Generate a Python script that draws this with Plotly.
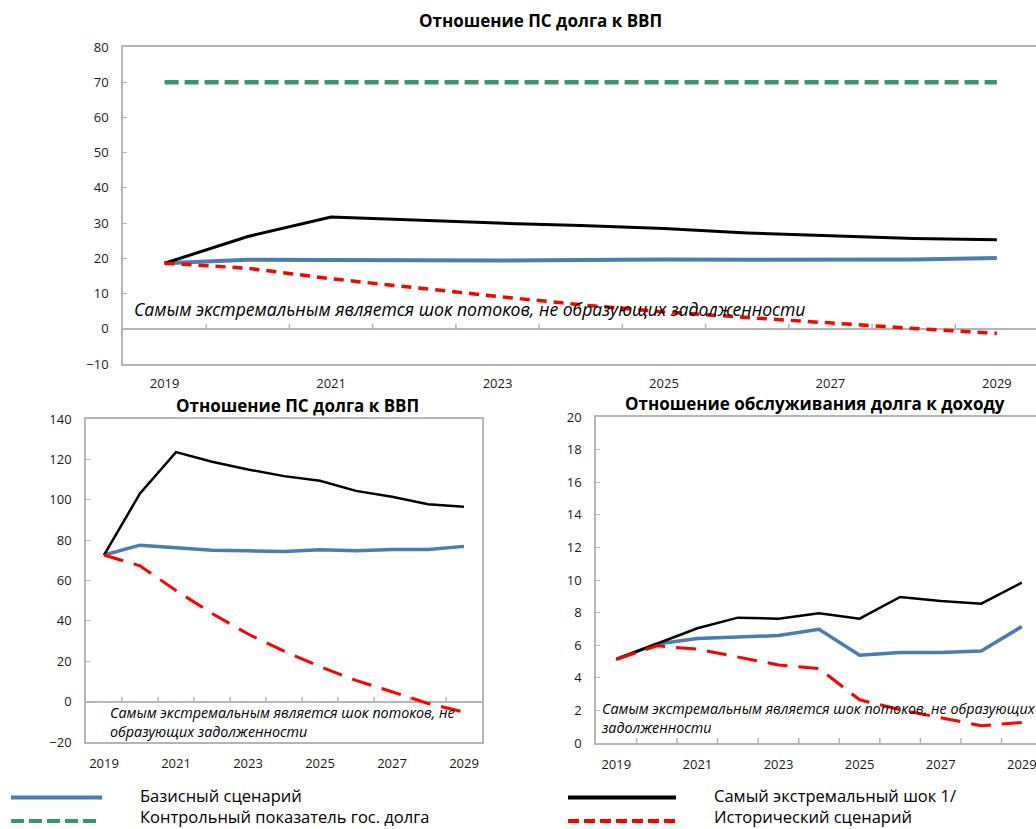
import plotly.graph_objects as go

# ---------------- data ----------------
years = [2019, 2020, 2021, 2022, 2023, 2024, 2025, 2026, 2027, 2028, 2029]
tick_years = [2019, 2021, 2023, 2025, 2027, 2029]

# Top chart: Отношение ПС долга к ВВП
top_baseline = [18.6, 19.6, 19.5, 19.4, 19.4, 19.5, 19.7, 19.6, 19.7, 19.7, 20.1]
top_extreme = [18.6, 26.2, 31.7, 30.8, 30.0, 29.3, 28.5, 27.2, 26.4, 25.6, 25.3]
top_historical = [18.6, 17.2, 14.2, 11.6, 9.2, 6.8, 4.8, 3.2, 1.6, 0.1, -1.3]
top_threshold = [70, 70, 70, 70, 70, 70, 70, 70, 70, 70, 70]

# Bottom-left chart: Отношение ПС долга к ВВП
bl_baseline = [72.6, 77.5, 76.2, 75.0, 74.7, 74.4, 75.2, 74.7, 75.3, 75.3, 76.9]
bl_extreme = [72.6, 103.1, 123.6, 118.8, 115.0, 111.7, 109.4, 104.4, 101.5, 97.8, 96.5]
bl_historical = [72.6, 67.3, 55.0, 43.7, 33.5, 25.0, 17.3, 10.5, 4.9, -0.9, -5.2]

# Bottom-right chart: Отношение обслуживания долга к доходу
br_baseline = [5.14, 6.08, 6.41, 6.51, 6.59, 6.98, 5.39, 5.55, 5.55, 5.65, 7.14]
br_extreme = [5.14, 6.08, 7.04, 7.69, 7.63, 7.96, 7.63, 8.96, 8.71, 8.55, 9.84]
br_historical = [5.14, 5.96, 5.76, 5.28, 4.79, 4.57, 2.65, 2.04, 1.53, 1.06, 1.26]

title_top = "Отношение ПС долга к ВВП"
title_bl = "Отношение ПС долга к ВВП"
title_br = "Отношение обслуживания долга к доходу"
note_text = "Самым экстремальным является шок потоков, не образующих задолженности"
note_bl = "Самым экстремальным является шок потоков, не<br>образующих задолженности"
note_br = "Самым экстремальным является шок потоков, не образующих<br>задолженности"
legend_names = ["Базисный сценарий", "Контрольный показатель гос. долга",
                "Самый экстремальный шок 1/", "Исторический сценарий"]

# ---------------- styling ----------------
W, H = 1036, 829
FONT = "Open Sans"
BLUE = "#4A7EB0"
GREEN = "#36986A"
RED = "#FF0000"
BLACK = "#000000"
GRID = "#B5B5B5"


def fx(px):
    return px / W


def fy(py):
    return 1 - py / H


fig = go.Figure()


def add_series(xa, ya, base, extreme, hist, threshold=None, big=False):
    if threshold is not None:
        fig.add_trace(go.Scatter(x=years, y=threshold, mode="lines", xaxis=xa, yaxis=ya,
                                 line=dict(color=GREEN, width=4.5, dash="14px,6px"),
                                 name=legend_names[1], showlegend=False, hoverinfo="skip"))
    fig.add_trace(go.Scatter(x=years, y=base, mode="lines", xaxis=xa, yaxis=ya,
                             line=dict(color=BLUE, width=4 if big else 3.5),
                             name=legend_names[0], showlegend=False))
    fig.add_trace(go.Scatter(x=years, y=extreme, mode="lines", xaxis=xa, yaxis=ya,
                             line=dict(color=BLACK, width=3 if big else 2.5),
                             name=legend_names[2], showlegend=False))
    fig.add_trace(go.Scatter(x=years, y=hist, mode="lines", xaxis=xa, yaxis=ya,
                             line=dict(color=RED, width=3.5 if big else 3,
                                       dash="10px,7px" if big else "20px,11px"),
                             name=legend_names[3], showlegend=False))


add_series("x", "y", top_baseline, top_extreme, top_historical, top_threshold, big=True)
add_series("x2", "y2", bl_baseline, bl_extreme, bl_historical)
add_series("x3", "y3", br_baseline, br_extreme, br_historical)

tickfont = dict(family=FONT, size=13, color="#1a1a1a")


def xaxis_cfg(domain, rng, standoff):
    return dict(domain=domain, range=rng, tickvals=tick_years, ticks="",
                showline=True, mirror=True, linecolor=GRID, linewidth=1.5,
                showgrid=False, zeroline=False, tickfont=tickfont,
                ticklabelstandoff=standoff, ticklabeloverflow="allow",
                fixedrange=True, automargin=False)


def yaxis_cfg(domain, rng, dtick, mirror):
    return dict(domain=domain, range=rng, dtick=dtick, ticks="inside", ticklen=4,
                tickcolor=GRID, showline=True, mirror=mirror, linecolor=GRID,
                linewidth=1.5, showgrid=False, zeroline=True, zerolinecolor=GRID,
                zerolinewidth=1.5, tickfont=tickfont, ticklabelstandoff=10,
                fixedrange=True, automargin=False)


fig.update_layout(
    width=W, height=H,
    margin=dict(l=0, r=0, t=0, b=0, pad=0),
    paper_bgcolor="white", plot_bgcolor="white",
    showlegend=False,
    font=dict(family=FONT, color="#000000"),
    xaxis=dict(xaxis_cfg([fx(123), 1.0], [2018.5, 2029.47], 7), anchor="y"),
    yaxis=dict(yaxis_cfg([fy(364), fy(47)], [-10, 80], 10, False), anchor="x"),
    xaxis2=dict(xaxis_cfg([fx(86), fx(482)], [2018.5, 2029.5], 9), anchor="y2"),
    yaxis2=dict(yaxis_cfg([fy(742), fy(419)], [-20, 140], 20, True), anchor="x2"),
    xaxis3=dict(xaxis_cfg([fx(596), 1.0], [2018.5, 2029.35], 9), anchor="y3"),
    yaxis3=dict(yaxis_cfg([fy(743), fy(417)], [0, 20], 2, False), anchor="x3"),
)

# small category-boundary ticks on the zero line, pointing up
shapes = []
for xa, ya in [("x", "y"), ("x2", "y2"), ("x3", "y3")]:
    for yr in years[:-1]:
        shapes.append(dict(type="line", xref=xa, yref=ya, x0=yr + 0.5, x1=yr + 0.5,
                           ysizemode="pixel", yanchor=0, y0=0, y1=5,
                           line=dict(color=GRID, width=1.5)))

# legend samples
shapes += [
    dict(type="line", xref="paper", yref="paper", x0=fx(11), x1=fx(102), y0=fy(797.5), y1=fy(797.5),
         line=dict(color=BLUE, width=4)),
    dict(type="line", xref="paper", yref="paper", x0=fx(11), x1=fx(96), y0=fy(821), y1=fy(821),
         line=dict(color=GREEN, width=4, dash="13px,5px")),
    dict(type="line", xref="paper", yref="paper", x0=fx(568), x1=fx(676), y0=fy(797.5), y1=fy(797.5),
         line=dict(color=BLACK, width=4)),
    dict(type="line", xref="paper", yref="paper", x0=fx(568), x1=fx(676), y0=fy(821), y1=fy(821),
         line=dict(color=RED, width=4, dash="11px,5px")),
]
fig.update_layout(shapes=shapes)

ann = []


def text(x, y, s, size, anchor="center", bold=False, italic=False):
    if bold:
        s = "<b>" + s + "</b>"
    if italic:
        s = "<i>" + s + "</i>"
    ann.append(dict(x=fx(x), y=fy(y), xref="paper", yref="paper", text=s, showarrow=False,
                    xanchor=anchor, yanchor="middle", align="left", borderpad=0,
                    font=dict(family=FONT, size=size, color="#000000")))


text(540, 20, title_top, 17, bold=True)
text(297, 405, title_bl, 17, bold=True)
text(815, 404, title_br, 17, bold=True)
text(133, 309, note_text, 17.6, anchor="left", italic=True)
text(109, 722, note_bl, 14.3, anchor="left", italic=True)
text(600, 718, note_br, 14.3, anchor="left", italic=True)
text(139, 795, legend_names[0], 16.5, anchor="left")
text(139, 816, legend_names[1], 16.5, anchor="left")
text(713, 795, legend_names[2], 16.5, anchor="left")
text(713, 816, legend_names[3], 16.5, anchor="left")
fig.update_layout(annotations=ann)

fig.write_html("out.html",
               config={"displayModeBar": False},
               post_script="document.body.style.margin='0px';document.body.style.overflow='hidden';")
